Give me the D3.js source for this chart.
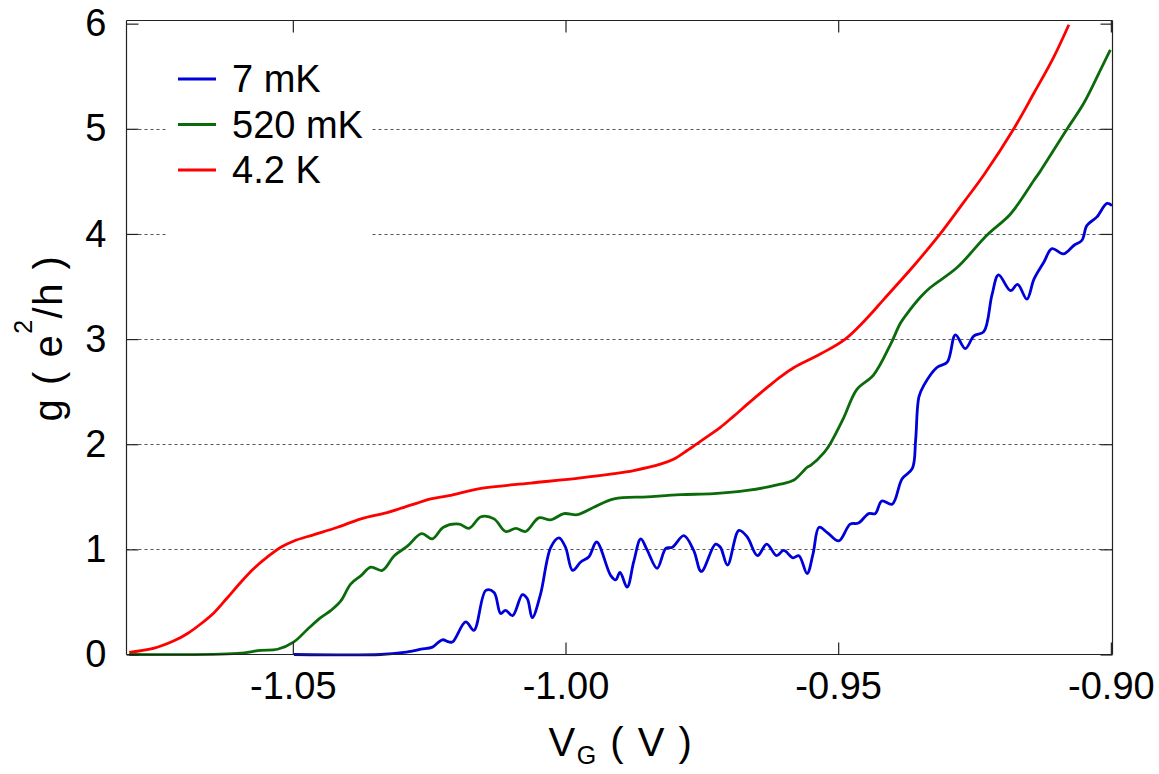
<!DOCTYPE html>
<html>
<head>
<meta charset="utf-8">
<script src="https://cdn.jsdelivr.net/npm/d3@7"></script>
<style>
  html, body { margin: 0; padding: 0; background: #fff; }
  svg { display: block; font-family: "Liberation Sans", Arial, sans-serif; }
</style>
</head>
<body>
<svg id="chart" width="1159" height="774"></svg>
<script>
// Gate voltage (V) and conductance g (e^2/h) for three temperatures
const vg7mK = [-1.0498, -1.0339, -1.0296, -1.0265, -1.0244, -1.0226, -1.0214, -1.0207, -1.0183, -1.0168,
  -1.0146, -1.0131, -1.0119, -1.0110, -1.0097, -1.0079, -1.0070, -1.0061, -1.0046, -1.0027,
  -1.0012, -1.0000, -0.9987, -0.9972, -0.9957, -0.9943, -0.9917, -0.9908, -0.9900, -0.9887,
  -0.9875, -0.9862, -0.9850, -0.9832, -0.9816, -0.9804, -0.9783, -0.9765, -0.9751, -0.9725,
  -0.9716, -0.9703, -0.9682, -0.9667, -0.9648, -0.9631, -0.9613, -0.9600, -0.9583, -0.9572,
  -0.9557, -0.9546, -0.9535, -0.9520, -0.9499, -0.9478, -0.9463, -0.9444, -0.9432, -0.9420,
  -0.9401, -0.9383, -0.9364, -0.9358, -0.9352, -0.9343, -0.9319, -0.9300, -0.9285, -0.9267,
  -0.9251, -0.9233, -0.9218, -0.9206, -0.9184, -0.9171, -0.9154, -0.9141, -0.9123, -0.9108,
  -0.9087, -0.9068, -0.9053, -0.9044, -0.9026, -0.9007, -0.8998];
const g7mK = [0.00, 0.00, 0.02, 0.05, 0.07, 0.14, 0.12, 0.12, 0.31, 0.23,
  0.61, 0.59, 0.39, 0.42, 0.37, 0.57, 0.53, 0.35, 0.57, 1.02,
  1.11, 1.02, 0.80, 0.88, 0.93, 1.07, 0.75, 0.71, 0.78, 0.64,
  0.88, 1.10, 0.99, 0.82, 1.01, 1.02, 1.13, 0.99, 0.79, 1.05,
  1.02, 0.85, 1.18, 1.12, 0.94, 1.05, 0.94, 0.99, 0.92, 0.94,
  0.77, 0.96, 1.21, 1.16, 1.08, 1.24, 1.25, 1.34, 1.34, 1.46,
  1.43, 1.67, 1.77, 2.04, 2.45, 2.56, 2.73, 2.78, 3.04, 2.91,
  3.03, 3.07, 3.42, 3.61, 3.46, 3.52, 3.38, 3.57, 3.73, 3.86,
  3.81, 3.89, 3.94, 4.08, 4.16, 4.29, 4.27];

const vg520mK = [-1.0800, -1.0601, -1.0559, -1.0528, -1.0498, -1.0473, -1.0449, -1.0430, -1.0412, -1.0394,
  -1.0375, -1.0357, -1.0336, -1.0314, -1.0290, -1.0264, -1.0244, -1.0224, -1.0195, -1.0177,
  -1.0155, -1.0131, -1.0110, -1.0091, -1.0073, -1.0049, -1.0027, -1.0003, -0.9978, -0.9948,
  -0.9911, -0.9850, -0.9789, -0.9728, -0.9667, -0.9606, -0.9581, -0.9557, -0.9550, -0.9526,
  -0.9514, -0.9490, -0.9466, -0.9435, -0.9404, -0.9386, -0.9374, -0.9349, -0.9331, -0.9282,
  -0.9227, -0.9184, -0.9141, -0.9129, -0.9080, -0.9050, -0.9019, -0.9001];
const g520mK = [0.00, 0.01, 0.04, 0.05, 0.12, 0.24, 0.35, 0.42, 0.51, 0.67,
  0.75, 0.83, 0.80, 0.94, 1.03, 1.15, 1.10, 1.21, 1.24, 1.20,
  1.31, 1.29, 1.17, 1.20, 1.17, 1.30, 1.28, 1.34, 1.33, 1.40,
  1.48, 1.50, 1.52, 1.53, 1.56, 1.62, 1.66, 1.78, 1.80, 1.92,
  2.01, 2.25, 2.52, 2.66, 2.95, 3.15, 3.24, 3.40, 3.49, 3.68,
  3.99, 4.19, 4.51, 4.60, 5.00, 5.24, 5.56, 5.75];

const vg4K = [-1.0800, -1.0754, -1.0718, -1.0693, -1.0669, -1.0644, -1.0620, -1.0595, -1.0571, -1.0546,
  -1.0522, -1.0498, -1.0461, -1.0418, -1.0375, -1.0327, -1.0278, -1.0247, -1.0214, -1.0155,
  -1.0064, -0.9972, -0.9911, -0.9875, -0.9826, -0.9801, -0.9777, -0.9752, -0.9716, -0.9691,
  -0.9660, -0.9630, -0.9606, -0.9581, -0.9532, -0.9487, -0.9447, -0.9416, -0.9361, -0.9313,
  -0.9270, -0.9233, -0.9178, -0.9141, -0.9105, -0.9077];
const g4K = [0.02, 0.06, 0.13, 0.20, 0.29, 0.40, 0.54, 0.69, 0.82, 0.93,
  1.02, 1.08, 1.14, 1.21, 1.29, 1.35, 1.43, 1.48, 1.51, 1.58,
  1.63, 1.68, 1.72, 1.75, 1.81, 1.86, 1.94, 2.03, 2.16, 2.27,
  2.41, 2.54, 2.64, 2.73, 2.86, 3.00, 3.20, 3.38, 3.70, 4.00,
  4.30, 4.56, 5.00, 5.34, 5.68, 5.99];

const seriesNames = ["7 mK", "520 mK", "4.2 K"];
const seriesColors = ["#0000d8", "#0b6b0b", "#ff0000"];
const xTickValues = [-1.05, -1.00, -0.95, -0.90];
const xTickLabels = ["-1.05", "-1.00", "-0.95", "-0.90"];
const yTickValues = [0, 1, 2, 3, 4, 5, 6];

const series = [
  { name: seriesNames[0], color: seriesColors[0], pts: vg7mK.map((v, i) => [v, g7mK[i]]) },
  { name: seriesNames[1], color: seriesColors[1], pts: vg520mK.map((v, i) => [v, g520mK[i]]) },
  { name: seriesNames[2], color: seriesColors[2], pts: vg4K.map((v, i) => [v, g4K[i]]) }
];

const svg = d3.select("#chart");
const L = 126.5, R = 1112.5, T = 20.5, B = 654.5;

const x = d3.scaleLinear().domain([-1.0805, -0.8997]).range([L, R]);
const y = d3.scaleLinear().domain([0, 6.03]).range([B, T]);

// horizontal dotted grid
svg.append("g").selectAll("line")
  .data(yTickValues.filter(v => v > 0 && v < 6))
  .join("line")
  .attr("x1", L).attr("x2", R)
  .attr("y1", d => Math.round(y(d)) + 0.5).attr("y2", d => Math.round(y(d)) + 0.5)
  .attr("stroke", "#555").attr("stroke-width", 1).attr("stroke-dasharray", "3,3");

// legend background hides the grid behind it
svg.append("rect").attr("x", 168).attr("y", 45).attr("width", 204).attr("height", 195).attr("fill", "#fff");

// curves
const line = d3.line().x(d => x(d[0])).y(d => y(d[1])).curve(d3.curveCatmullRom.alpha(0.5));
svg.append("g").selectAll("path")
  .data(series.slice().reverse())
  .join("path")
  .attr("d", d => line(d.pts))
  .attr("fill", "none")
  .attr("stroke", d => d.color)
  .attr("stroke-width", 2.8)
  .attr("stroke-linejoin", "round");

// axes: ticks inside on all four sides
const tickLen = 12;
const axisColor = "#222";
const fontSize = 38;

const axB = d3.axisBottom(x).tickValues(xTickValues).tickSize(-tickLen).tickPadding(18)
  .tickFormat((d, i) => xTickLabels[i]);
const gB = svg.append("g").attr("transform", `translate(0,${B})`).call(axB);
const axT = d3.axisTop(x).tickValues(xTickValues).tickSize(-tickLen).tickFormat("");
const gT = svg.append("g").attr("transform", `translate(0,${T})`).call(axT);
const axLft = d3.axisLeft(y).tickValues(yTickValues).tickSize(-tickLen).tickPadding(20)
  .tickFormat(d3.format("d"));
const gL = svg.append("g").attr("transform", `translate(${L},0)`).call(axLft);
const axRt = d3.axisRight(y).tickValues(yTickValues).tickSize(-tickLen).tickFormat("");
const gR = svg.append("g").attr("transform", `translate(${R},0)`).call(axRt);

[gB, gT, gL, gR].forEach(g => {
  g.select(".domain").attr("stroke", axisColor).attr("stroke-width", 1.2);
  g.selectAll(".tick line").attr("stroke", axisColor).attr("stroke-width", 1.2);
  g.selectAll(".tick text").attr("fill", "#000").style("font-size", fontSize + "px")
    .style("font-family", "'Liberation Sans', Arial, sans-serif");
});
gB.select(".domain").attr("d", `M${L},0H${R}`);
gT.select(".domain").attr("d", `M${L},0H${R}`);
gL.select(".domain").attr("d", `M0,${B}V${T}`);
gR.select(".domain").attr("d", `M0,${B}V${T}`);

// legend
const leg = svg.append("g");
series.forEach((s, i) => {
  const cy = 79 + i * 45.5;
  leg.append("line").attr("x1", 178).attr("x2", 216).attr("y1", cy).attr("y2", cy)
    .attr("stroke", s.color).attr("stroke-width", 3);
  leg.append("text").attr("x", 232).attr("y", cy + 13)
    .style("font-size", fontSize + "px").text(s.name);
});

// axis titles
const yt = svg.append("text")
  .attr("transform", "translate(62,338) rotate(-90)")
  .attr("text-anchor", "middle")
  .style("font-size", "40px")
  .style("letter-spacing", "1.5px");
yt.append("tspan").text("g ( e");
yt.append("tspan").attr("dy", -30).style("font-size", "25px").text("2");
yt.append("tspan").attr("dy", 30).text("/h )");

const xt = svg.append("text")
  .attr("x", 621).attr("y", 756)
  .attr("text-anchor", "middle")
  .style("font-size", "40px")
  .style("letter-spacing", "1.5px");
xt.append("tspan").text("V");
xt.append("tspan").attr("dy", 8).style("font-size", "25px").text("G");
xt.append("tspan").attr("dy", -8).text(" ( V )");
</script>
</body>
</html>
